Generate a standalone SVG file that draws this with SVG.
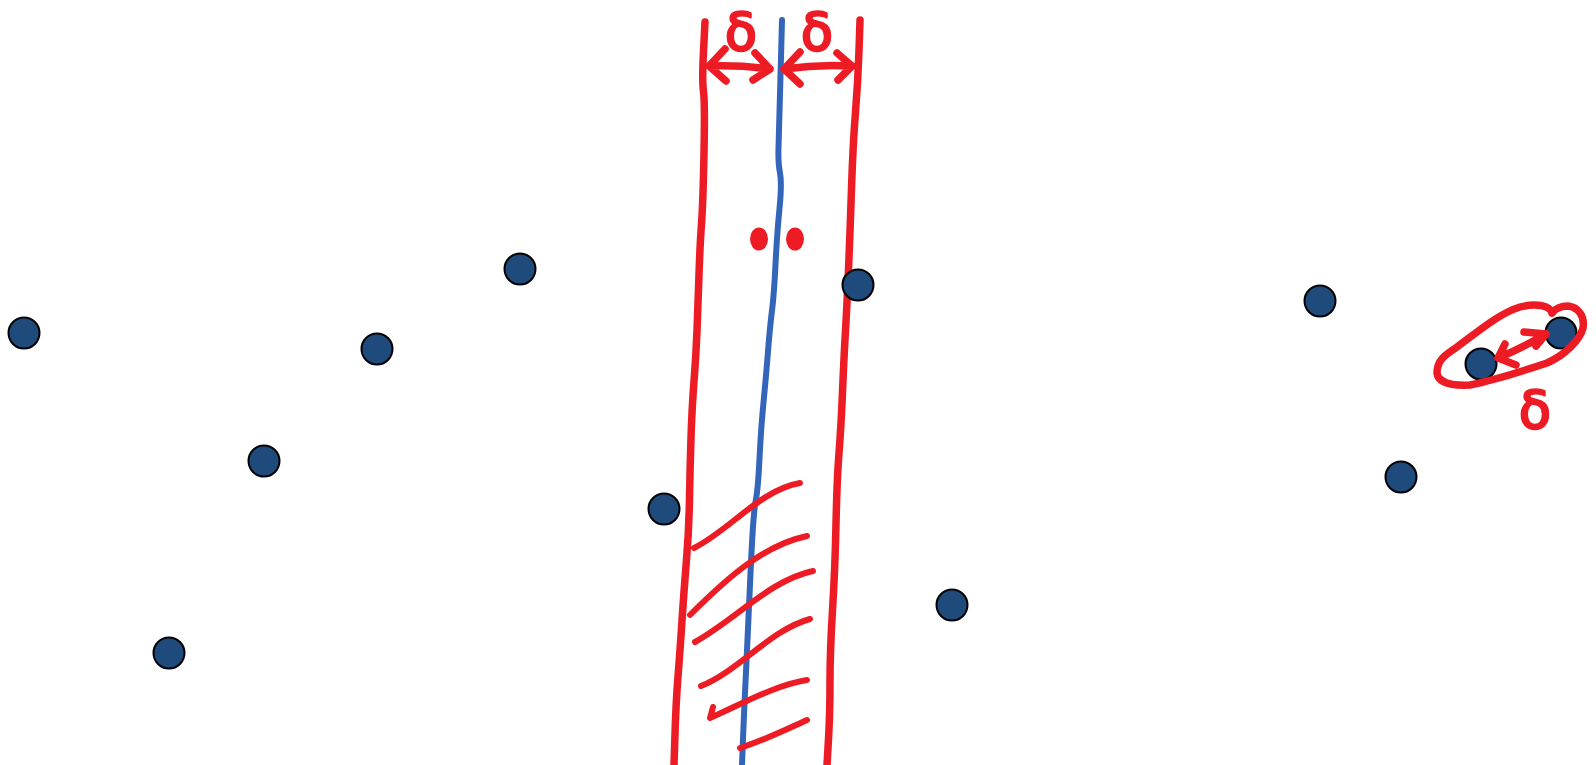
<svg xmlns="http://www.w3.org/2000/svg" width="1596" height="765" viewBox="0 0 1596 765">
<style>
.red{fill:none;stroke:#ED1C24;stroke-width:7.5;stroke-linecap:round;stroke-linejoin:round}
.hatch{fill:none;stroke:#ED1C24;stroke-width:6;stroke-linecap:round;stroke-linejoin:round}
.blue{fill:none;stroke:#3366BB;stroke-width:6;stroke-linecap:round;stroke-linejoin:round}
.pt{fill:#1F4A7C;stroke:#000;stroke-width:2}
.delta{fill:#ED1C24;stroke:#ED1C24;stroke-width:2.5;stroke-linejoin:round;font-family:"DejaVu Sans",sans-serif;font-size:52px;text-anchor:middle}
</style>
<rect width="1596" height="765" fill="#fff"/>
<g id="strip">
<path class="red" d="M705,22 L703.5,51.5 Q702,81 703.5,91.5 Q705,102 704,153 Q703,204 701.5,224 Q700,244 699,274.5 Q698,305 697,330.5 Q696,356 694,381.5 Q692,407 691,437.5 Q690,468 689.5,498.5 Q689,529 686.5,559.5 Q684,590 682,620.5 Q680,651 678,676.5 Q676,702 675,733.5 L674,765"/>
<path class="blue" d="M782,20 L780.5,76 Q779,132 778.5,147.5 Q778,163 780,173 Q782,183 779.5,208.5 Q777,234 775.5,264.5 Q774,295 772,310.5 Q770,326 768,351.5 Q766,377 763.5,402.5 Q761,428 759.5,458.5 Q758,489 756,499 Q754,509 752.5,534.5 Q751,560 749.5,595.5 Q748,631 746,672 Q744,713 743,739 L742,765"/>
<path class="red" d="M860,20 L859,50.5 Q858,81 855.5,112 Q853,143 851.5,188.5 Q850,234 848.5,269.5 Q847,305 845.5,330.5 Q844,356 842.5,392 Q841,428 839,453 Q837,478 836,524 Q835,570 832.5,610.5 Q830,651 830,682 Q830,713 828.5,739 L827,765"/>
</g>
<g id="arrows-top">
<path class="red" d="M709,66 Q740,65 770,69 M725,49 L709,66 L726,81 M755,53 L770,69 L753,80"/>
<path class="red" d="M784,69 Q818,64 852,66 M800,52 L784,69 L800,84 M837,53 L852,66 L838,80"/>
<text class="delta" x="741" y="50">δ</text>
<text class="delta" x="817" y="50">δ</text>
</g>
<g id="red-dots">
<ellipse cx="759" cy="239" rx="9" ry="11.5" fill="#ED1C24"/>
<ellipse cx="795" cy="239" rx="9" ry="11.5" fill="#ED1C24"/>
</g>
<g id="hatching">
<path class="hatch" d="M694,548 C730,530 760,490 800,483"/>
<path class="hatch" d="M690,615 C730,575 765,545 807,536"/>
<path class="hatch" d="M695,642 C735,620 770,580 813,571"/>
<path class="hatch" d="M701,686 C740,670 770,630 810,619"/>
<path class="hatch" d="M713,707 L710,718 C740,705 775,685 807,680"/>
<path class="hatch" d="M740,748 C765,740 785,730 807,720"/>
</g>
<g id="points">
<circle class="pt" cx="24" cy="333" r="15.5"/>
<circle class="pt" cx="377" cy="349" r="15.5"/>
<circle class="pt" cx="520" cy="269" r="15.5"/>
<circle class="pt" cx="264" cy="461" r="15.5"/>
<circle class="pt" cx="169" cy="653" r="15.5"/>
<circle class="pt" cx="664" cy="509" r="15.5"/>
<circle class="pt" cx="858" cy="285" r="15.5"/>
<circle class="pt" cx="952" cy="605" r="15.5"/>
<circle class="pt" cx="1320" cy="301" r="15.5"/>
<circle class="pt" cx="1401" cy="477" r="15.5"/>
<circle class="pt" cx="1481" cy="364" r="15.5"/>
<circle class="pt" cx="1561" cy="333" r="15.5"/>
</g>
<g id="closest-pair">
<path class="red" d="M1552,313 C1550,305 1535,303 1520,307 C1500,313 1480,330 1457,347 C1445,355 1437,360 1437,373 C1438,382 1450,386 1470,385 C1495,380 1520,372 1547,363 C1565,355 1580,340 1583,328 C1585,316 1578,307 1568,306 C1560,306 1555,309 1552,313"/>
<path class="red" d="M1498,358 Q1522,348 1546,334 M1505,344 L1498,358 L1516,365 M1524,332 L1546,334 L1536,346"/>
<text class="delta" x="1535" y="428">δ</text>
</g>
</svg>
